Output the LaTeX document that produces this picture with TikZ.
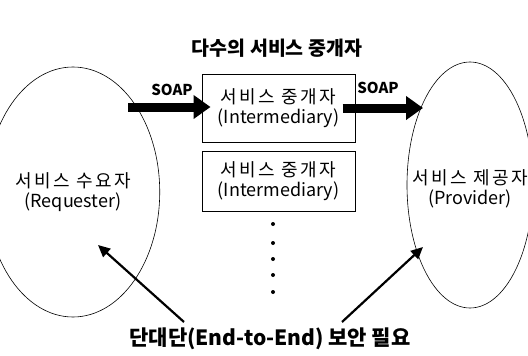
\documentclass[tikz,border=0pt]{standalone}
\usepackage{fontspec}
\setmainfont{Noto Sans CJK KR}
\newfontfamily\krwide[LetterSpace=14]{Noto Sans CJK KR}
\usetikzlibrary{arrows.meta,shapes.geometric,positioning}

\tikzset{
  party/.style={draw, ellipse, line width=0.6pt, minimum width=132pt, minimum height=250pt, align=center, font=\fontsize{18}{20}\selectfont},
  relay/.style={draw, line width=1pt, minimum width=153pt, align=center, inner sep=0pt, font=\fontsize{18}{20}\selectfont},
  soaplabel/.style={font=\bfseries\fontsize{15}{16}\selectfont},
  fatarrow/.style={line width=9pt, -{Triangle[length=17pt,width=23pt]}},
  slimarrow/.style={line width=2.2pt, -{Triangle[length=12pt,width=11pt]}},
}

\begin{document}
\begin{tikzpicture}[x=1pt,y=-1pt]
    \useasboundingbox (0,0) rectangle (528,356);

    \node[party] (req) at (73,192) {{\krwide 서비스 수요자}\\(Requester)}; %requester
    \node[party, minimum width=126pt, minimum height=246pt] (prov) at (470,185) {}; %provider
    \node[font=\fontsize{18}{20}\selectfont, align=center] (provtxt) at (470,189) {{\krwide 서비스 제공자}\\(Provider)};

    \node[relay, minimum height=68pt] (box1) at (278.5,108) {{\krwide 서비스 중개자}\\(Intermediary)}; %intermediary 1
    \node[relay, minimum height=60pt] (box2) at (278.5,181) {{\krwide 서비스 중개자}\\(Intermediary)}; %intermediary 2
    \foreach \y in {224,243,259,275,292}
        \fill (273,\y) circle (2pt); %more intermediaries

    \node[font=\bfseries\fontsize{19.5}{22}\selectfont] (title) at (277,48) {다수의 서비스 중개자};
    \node[font=\bfseries\fontsize{21}{24}\selectfont] (note) at (270,339) {단대단(End-to-End) 보안 필요};

    % SOAP messages
    \coordinate (soapin) at (128,107);
    \coordinate (soapout) at (423,108);
    \draw[fatarrow] (soapin) -- ([xshift=9pt,yshift=1pt]box1.west);
    \draw[fatarrow] ([xshift=-13pt]box1.east) -- (soapout);
    \node[soaplabel] (soap1) at (172,90) {SOAP};
    \node[soaplabel] (soap2) at (378,88) {SOAP};

    % end-to-end security
    \coordinate (noteL) at (184,322);
    \coordinate (noteR) at (342,322);
    \coordinate (reqpt) at (98,245);
    \coordinate (provpt) at (423,247);
    \draw[slimarrow] (noteL) -- (reqpt);
    \draw[slimarrow] (noteR) -- (provpt);
\end{tikzpicture}
\end{document}
